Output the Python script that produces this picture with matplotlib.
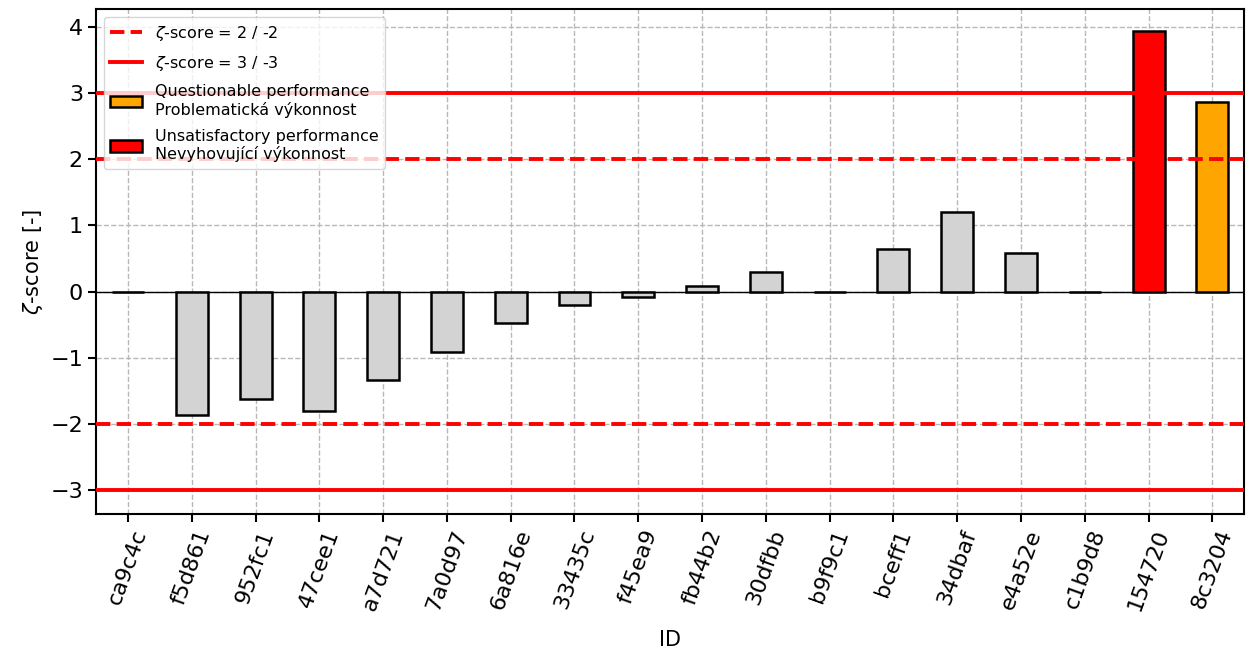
import matplotlib
matplotlib.use("Agg")
import matplotlib.pyplot as plt
import numpy as np
from matplotlib.patches import Patch
from matplotlib.lines import Line2D

ids = ["ca9c4c", "f5d861", "952fc1", "47cee1", "a7d721", "7a0d97", "6a816e",
       "33435c", "f45ea9", "fb44b2", "30dfbb", "b9f9c1", "bceff1", "34dbaf",
       "e4a52e", "c1b9d8", "154720", "8c3204"]
zeta = [0.0, -1.86, -1.62, -1.80, -1.33, -0.92, -0.48, -0.20, -0.08, 0.08,
        0.30, 0.0, 0.64, 1.21, 0.58, 0.0, 3.94, 2.87]


def bar_color(z):
    # colour by performance class
    if abs(z) >= 3:
        return "red"
    if abs(z) >= 2:
        return "orange"
    return "lightgray"


fig, ax = plt.subplots(figsize=(12.48, 6.57), dpi=100)
x = np.arange(len(ids))
ax.bar(x, zeta, width=0.5, color=[bar_color(z) for z in zeta],
       edgecolor="black", linewidth=1.8, zorder=3)
ax.axhline(0, color="black", linewidth=1, zorder=2)
for lvl in (2, -2):
    ax.axhline(lvl, color="red", linestyle="--", linewidth=2.8, zorder=4)
for lvl in (3, -3):
    ax.axhline(lvl, color="red", linestyle="-", linewidth=2.8, zorder=4)

ax.set_xlim(-0.5, len(ids) - 0.5)
ax.set_ylim(-3.36, 4.27)
ax.set_xticks(x)
ax.set_xticklabels(ids, rotation=70, fontsize=16)
ax.tick_params(axis="y", labelsize=16)
ax.tick_params(width=1.5, length=6)
for sp in ax.spines.values():
    sp.set_linewidth(1.5)
ax.grid(True, linestyle="--", color="#b8b8b8", linewidth=1, zorder=0)
ax.set_axisbelow(True)
ax.set_xlabel("ID", fontsize=15, labelpad=12)
ax.set_ylabel(r"$\zeta$-score [-]", fontsize=15)

handles = [
    Line2D([], [], color="red", linestyle="--", linewidth=2.8, label=r"$\zeta$-score = 2 / -2"),
    Line2D([], [], color="red", linestyle="-", linewidth=2.8, label=r"$\zeta$-score = 3 / -3"),
    Patch(facecolor="orange", edgecolor="black", linewidth=1.8,
          label="Questionable performance\nProblematická výkonnost"),
    Patch(facecolor="red", edgecolor="black", linewidth=1.8,
          label="Unsatisfactory performance\nNevyhovující výkonnost"),
]
ax.legend(handles=handles, loc="upper left", fontsize=11.5, labelspacing=0.7)

fig.subplots_adjust(left=0.077, right=0.997, top=0.986, bottom=0.218)
fig.savefig("out.png", dpi=100)
